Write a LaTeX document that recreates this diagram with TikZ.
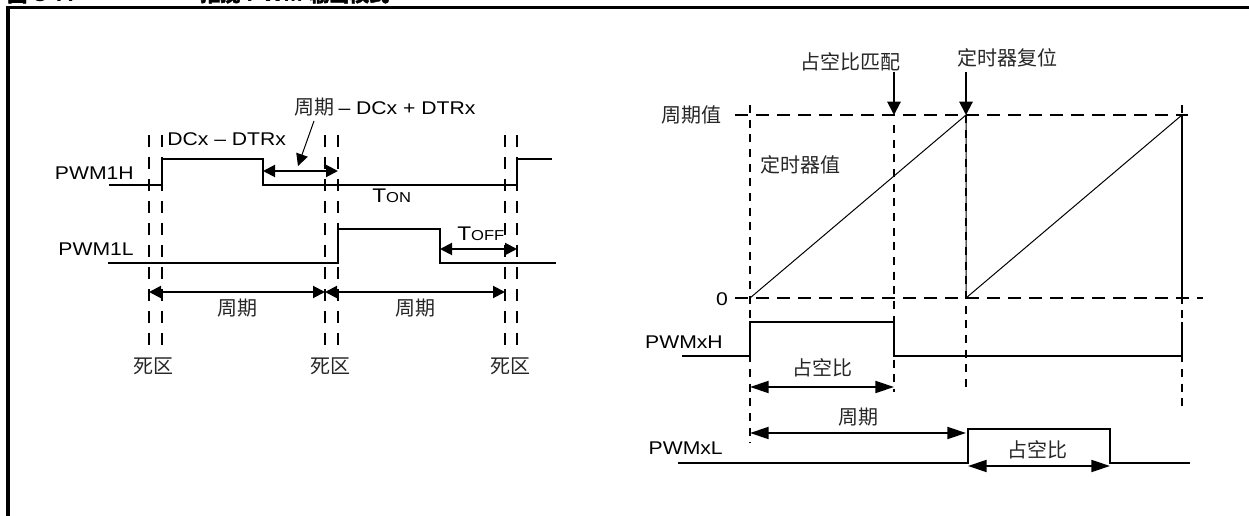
\documentclass[tikz,border=0pt]{standalone}
\usepackage{fontspec}
\setmainfont{Liberation Sans}[FakeStretch=1.15]
\newfontfamily\cjk{Noto Sans CJK SC}
\newfontfamily\cjkbold{Noto Sans CJK SC}[FakeBold=2]
\usetikzlibrary{arrows.meta}
\begin{document}
\begin{tikzpicture}[x=0.75pt,y=-0.75pt,
  sig/.style={line width=1.5pt},
  thin/.style={line width=0.75pt},
  vdashL/.style={line width=1.5pt, dash pattern=on 9pt off 7.5pt},
  vdashR/.style={line width=1.5pt, dash pattern=on 6pt off 5pt},
  hdash/.style={line width=1.5pt, dash pattern=on 9.75pt off 6pt},
  dimL/.style={line width=1.5pt, {Triangle[length=9pt,width=9pt]}-{Triangle[length=9pt,width=9pt]}},
  dimR/.style={line width=1.5pt, {Triangle[length=14pt,width=9pt]}-{Triangle[length=14pt,width=9pt]}},
  downarr/.style={line width=1.5pt, -{Triangle[length=10pt,width=10pt]}},
  lat/.style={font=\fontsize{13.8}{15}\selectfont, inner sep=0pt},
  zh/.style={font=\fontsize{15}{17}\cjk, text=black!85, inner sep=0pt},
]
\useasboundingbox (0,0) rectangle (1249,516);
\clip (0,0) rectangle (1249,516);

% title (cut off) and frame
\node[anchor=base west, inner sep=0pt, font=\fontsize{15}{17}\selectfont\bfseries] (title1) at (7,1.5) {{\cjkbold 图} 8-7:};
\node[anchor=base west, inner sep=0pt, font=\fontsize{15}{17}\selectfont\bfseries] (title2) at (200,1.5) {{\cjkbold 推挽} PWM {\cjkbold 输出模式}};
\draw[line width=2.4pt] (8,540) -- (8,7.5) -- (1270,7.5);

% ---------- left diagram ----------
\foreach \x in {149,162,325,338,505,517} \draw[vdashL] (\x,135) -- (\x,352);

\draw[sig] (109,185) -- (162,185) -- (162,159) -- (263,159) -- (263,185) -- (517,185) -- (517,159) -- (552,159);
\draw[sig] (108,263) -- (338,263) -- (338,229) -- (440,229) -- (440,263) -- (556,263);

\node[lat, anchor=east] (pwm1h) at (134,173) {PWM1H};
\node[lat, anchor=east] (pwm1l) at (134,249) {PWM1L};
\node[lat, anchor=west] (dcx) at (167,139) {DCx -- DTRx};
\node[anchor=west, inner sep=0pt] (pdc) at (294,107) {{\fontsize{15}{17}\cjk\color{black!85}周期} {\fontsize{13.8}{15}\selectfont -- DCx + DTRx}};
\coordinate (ptip) at (298,166);
\draw[thin, -{Triangle[length=9pt,width=9pt]}] (314,121) -- (ptip);

\draw[dimL] (263,171) -- (338,171);
\draw[dimL] (440,249) -- (517,249);
\draw[dimL] (149,292) -- (325,292);
\draw[dimL] (325,292) -- (505,292);

\node[anchor=base west, inner sep=0pt] (ton) at (372,203) {\fontsize{14.8}{16}\selectfont T\fontsize{10.8}{12}\selectfont ON};
\node[anchor=base west, inner sep=0pt] (toff) at (457,241) {\fontsize{14.8}{16}\selectfont T\fontsize{10.8}{12}\selectfont OFF};

\node[zh] (per1) at (237,308) {周期};
\node[zh] (per2) at (415,308) {周期};
\node[zh] (dz1) at (153,366) {死区};
\node[zh] (dz2) at (330,366) {死区};
\node[zh] (dz3) at (510,366) {死区};

% ---------- right diagram ----------
\draw[hdash] (735,115) -- (1188,115);
\draw[hdash] (735,298) -- (1203,298);
\draw[vdashR] (750,105) -- (750,443);
\draw[vdashR] (894,125) -- (894,392);
\draw[vdashR] (966,115) -- (966,392);
\draw[vdashR] (1182,105) -- (1182,408);

\draw[thin] (750,298) -- (966,115) -- (966,298) -- (1182,115);
\draw[sig] (1182,115) -- (1182,298);

\node[zh] (match) at (850,62) {占空比匹配};
\node[zh] (reset) at (1007,58) {定时器复位};
\coordinate (mtip) at (894,115);
\coordinate (rtip) at (966,115);
\draw[downarr] (894,72) -- (mtip);
\draw[downarr] (966,72) -- (rtip);

\node[zh, anchor=east] (pval) at (722,115) {周期值};
\node[lat] (zero) at (722,299) {0};
\node[zh, anchor=west] (tval) at (760,165) {定时器值};

\draw[sig] (682,356) -- (750,356) -- (750,322) -- (894,322) -- (894,356) -- (1182,356) -- (1182,322);
\node[lat, anchor=east] (pwmxh) at (723,342) {PWMxH};
\draw[dimR] (750,387) -- (894,387);
\node[zh] (dutyh) at (822,368) {占空比};

\draw[dimR] (750,433) -- (966,433);
\node[zh] (perr) at (858,417) {周期};

\draw[sig] (678,463) -- (968,463) -- (968,429) -- (1110,429) -- (1110,463) -- (1190,463);
\node[lat, anchor=east] (pwmxl) at (723,448) {PWMxL};
\draw[dimR] (968,466) -- (1110,466);
\node[zh] (dutyl) at (1037,450) {占空比};
\end{tikzpicture}
\end{document}
